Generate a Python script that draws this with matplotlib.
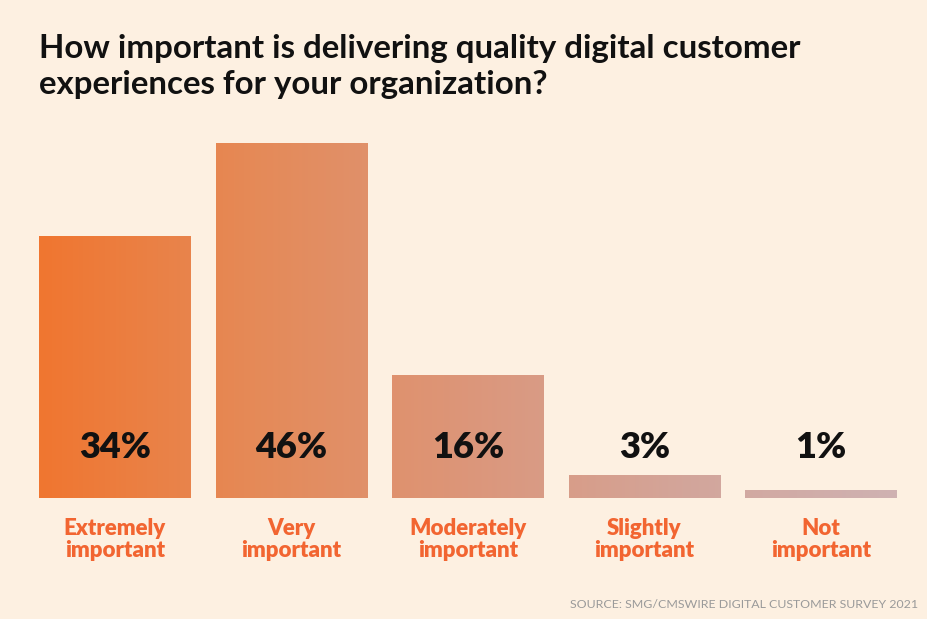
import numpy as np
import matplotlib.pyplot as plt
from matplotlib.colors import LinearSegmentedColormap

plt.rcParams['font.family'] = ['Lato', 'DejaVu Sans']

categories = ['Extremely\nimportant', 'Very\nimportant', 'Moderately\nimportant',
              'Slightly\nimportant', 'Not\nimportant']
values = [34, 46, 16, 3, 1]
labels = ['34%', '46%', '16%', '3%', '1%']

bg = '#fdf0e1'
W, H = 928, 619
fig = plt.figure(figsize=(W / 100, H / 100), dpi=100, facecolor=bg)
ax = fig.add_axes([39 / W, (H - 498) / H, 858 / W, 355 / H])
ax.set_facecolor(bg)

x = np.arange(len(values))
bars = ax.bar(x, values, width=0.86, color='none', edgecolor='none')
ax.set_xlim(-0.43, len(values) - 0.57)
ax.set_ylim(0, 46)

# one horizontal gradient running across the whole row of bars
cmap = LinearSegmentedColormap.from_list('grad', ['#f07630', '#e58a58', '#dc967a', '#d3a59a', '#cfb2b2'])
x0, x1 = ax.get_xlim()
grad = np.linspace(0, 1, 512).reshape(1, -1)
for b in bars:
    im = ax.imshow(grad, cmap=cmap, extent=[x0, x1, 0, 46], aspect='auto',
                   interpolation='bicubic', zorder=1)
    im.set_clip_path(b)
ax.set_xlim(x0, x1)
ax.set_ylim(0, 46)

for xi, lab in zip(x, labels):
    ax.text(xi, 6.5, lab, ha='center', va='center', fontsize=26,
            fontweight='heavy', color='#111111', zorder=3)

for xi, cat in zip(x, categories):
    ax.text(xi, -5.4, cat, ha='center', va='center', fontsize=16,
            fontweight='heavy', color='#f26531', linespacing=1.05, clip_on=False)

for s in ax.spines.values():
    s.set_visible(False)
ax.set_xticks([])
ax.set_yticks([])

fig.text(39 / W, 1 - 34 / H,
         'How important is delivering quality digital customer\nexperiences for your organization?',
         ha='left', va='top', fontsize=23.8, fontweight='bold', color='#111111', linespacing=1.3)
fig.text(918 / W, 1 - 604 / H, 'SOURCE: SMG/CMSWIRE DIGITAL CUSTOMER SURVEY 2021',
         ha='right', va='center', fontsize=8.9, color='#9a9a9a')

fig.savefig('out.png', dpi=100, facecolor=bg)
